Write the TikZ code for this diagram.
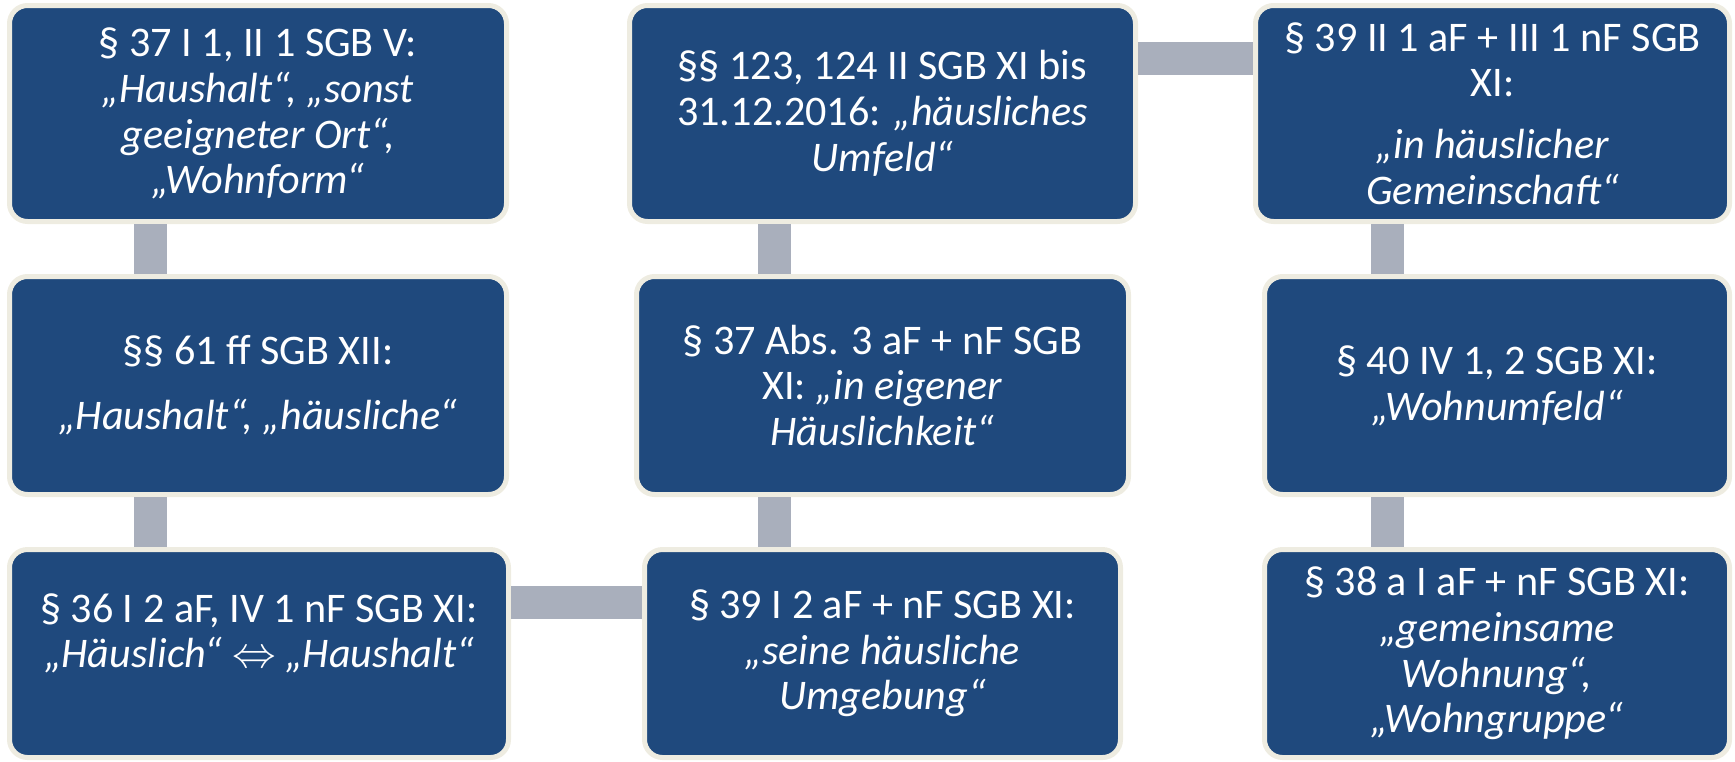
\documentclass[tikz,border=0pt]{standalone}
\usepackage{fontspec}
\setmainfont{Carlito}
\newdimen\pxu \pxu=0.2mm
\definecolor{boxblue}{RGB}{31,73,125}
\definecolor{boxrim}{RGB}{238,236,225}
\definecolor{bargray}{RGB}{169,175,188}
\begin{document}
\begin{tikzpicture}[x=0.2mm,y=-0.2mm,
    box/.style={draw=boxrim,fill=boxblue,line width=5\pxu,rounded corners=18\pxu,
      text=white,align=center,inner sep=0pt,font=\fontsize{24}{26}\selectfont},
    bar/.style={draw=bargray,line width=33\pxu}]
    \useasboundingbox (0,0) rectangle (1735,761);
    \node [box,minimum width=497\pxu,minimum height=216\pxu] (b1) at (258,113.5)
      {§ 37 I 1, II 1 SGB V:\\ \textit{„Haushalt“, „sonst}\\ \textit{geeigneter Ort“,}\\ \textit{„Wohnform“}};
    \node [box,minimum width=506\pxu,minimum height=216\pxu] (b2) at (882.5,113.5)
      {§§ 123, 124 II SGB XI bis\\ 31.12.2016: \textit{„häusliches}\\ \textit{Umfeld“}};
    \node [box,minimum width=474\pxu,minimum height=216\pxu] (b3) at (1492.5,113.5)
      {§ 39 II 1 aF + III 1 nF SGB\\ XI:\\[9pt] \textit{„in häuslicher}\\ \textit{Gemeinschaft“}};
    \node [box,minimum width=497\pxu,minimum height=218\pxu] (b4) at (258,385.5)
      {§§ 61 ff SGB XII:\\[11pt] \textit{„Haushalt“, „häusliche“}};
    \node [box,minimum width=492\pxu,minimum height=218\pxu] (b5) at (882.5,385.5)
      {§ 37 Abs. 3 aF + nF SGB\\ XI: \textit{„in eigener}\\ \textit{Häuslichkeit“}};
    \node [box,minimum width=465\pxu,minimum height=218\pxu] (b6) at (1497,385.5)
      {§ 40 IV 1, 2 SGB XI:\\ \textit{„Wohnumfeld“}};
    \node [box,minimum width=499\pxu,minimum height=208\pxu] (b7) at (259,653.5)
      {§ 36 I 2 aF, IV 1 nF SGB XI:\\ \textit{„Häuslich“} $\Leftrightarrow$ \textit{„Haushalt“}\\ \mbox{}};
    \node [box,minimum width=476\pxu,minimum height=208\pxu] (b8) at (882.5,653.5)
      {§ 39 I 2 aF + nF SGB XI:\\ \textit{„seine häusliche}\\ \textit{Umgebung“}};
    \node [box,minimum width=465\pxu,minimum height=208\pxu] (b9) at (1497,653.5)
      {§ 38 a I aF + nF SGB XI:\\ \textit{„gemeinsame}\\ \textit{Wohnung“,}\\ \textit{„Wohngruppe“}};
    \coordinate (c1) at (150.5,0);
    \coordinate (c2) at (774.5,0);
    \coordinate (c3) at (1387.5,0);
    \coordinate (r1) at (0,58.5);
    \coordinate (r3) at (0,602.5);
    \draw [bar] (b1.south -| c1) -- (b4.north -| c1);
    \draw [bar] (b4.south -| c1) -- (b7.north -| c1);
    \draw [bar] (b2.south -| c2) -- (b5.north -| c2);
    \draw [bar] (b5.south -| c2) -- (b8.north -| c2);
    \draw [bar] (b3.south -| c3) -- (b6.north -| c3);
    \draw [bar] (b6.south -| c3) -- (b9.north -| c3);
    \draw [bar] (b2.east |- r1) -- (b3.west |- r1);
    \draw [bar] (b7.east |- r3) -- (b8.west |- r3);
\end{tikzpicture}
\end{document}
